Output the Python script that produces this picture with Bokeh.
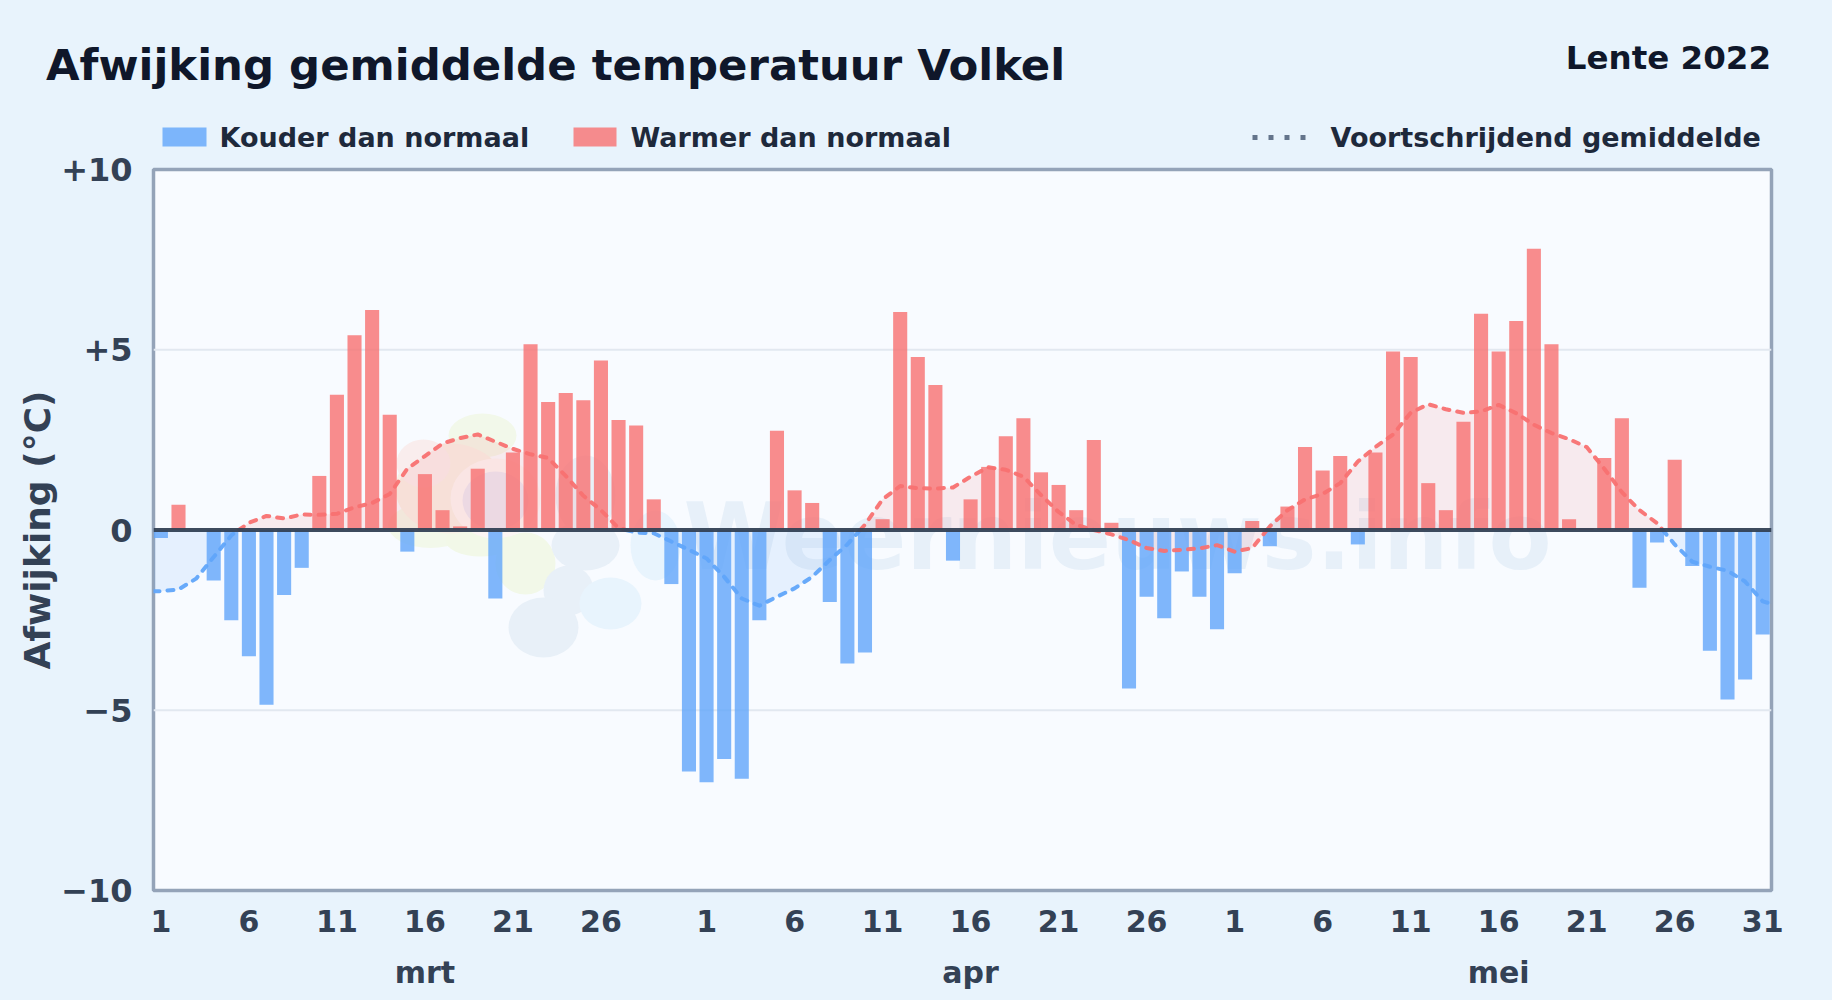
from bokeh.plotting import figure
from bokeh.layouts import column
from bokeh.models import Span, Range1d, LinearAxis, FixedTicker, ColumnDataSource
from bokeh.core.properties import value
from bokeh.embed import file_html
from bokeh.resources import INLINE
import numpy as np

TITLE = "Afwijking gemiddelde temperatuur Volkel"
SUBTITLE = "Lente 2022"
Y_LABEL = "Afwijking (°C)"
LEG_COLD = "Kouder dan normaal"
LEG_WARM = "Warmer dan normaal"
LEG_AVG = "Voortschrijdend gemiddelde"
WATERMARK = "Weernieuws.info"

months = ["mrt", "apr", "mei"]
month_center_day = [15, 46, 76]
tick_days = [0, 5, 10, 15, 20, 25, 31, 36, 41, 46, 51, 56, 61, 66, 71, 76, 81, 86, 91]
tick_labels = ["1", "6", "11", "16", "21", "26", "1", "6", "11", "16", "21", "26",
               "1", "6", "11", "16", "21", "26", "31"]
y_ticks = [-10, -5, 0, 5, 10]
y_tick_labels = ["−10", "−5", "0", "+5", "+10"]

march = [-0.22, 0.7, 0.0, -1.4, -2.5, -3.5, -4.85, -1.8, -1.05, 1.5, 3.75, 5.4, 6.1, 3.2, -0.6, 1.55,
         0.55, 0.1, 1.7, -1.9, 2.15, 5.15, 3.55, 3.8, 3.6, 4.7, 3.05, 2.9, 0.85, -1.5, -6.7]
april = [-7.0, -6.35, -6.9, -2.5, 2.75, 1.1, 0.75, -2.0, -3.7, -3.4, 0.3, 6.05, 4.8, 4.02, -0.85, 0.85,
         1.75, 2.6, 3.1, 1.6, 1.25, 0.55, 2.5, 0.2, -4.4, -1.85, -2.45, -1.15, -1.85, -2.75]
may = [-1.2, 0.25, -0.45, 0.65, 2.3, 1.65, 2.05, -0.4, 2.15, 4.95, 4.8, 1.3, 0.55, 3.0, 6.0, 4.95,
       5.8, 7.8, 5.15, 0.3, 0.05, 2.0, 3.1, -1.6, -0.35, 1.95, -1.0, -3.35, -4.7, -4.15, -2.9]

avg_march = [-1.7, -1.65, -1.35, -0.75, -0.15, 0.2, 0.39, 0.32, 0.43, 0.42, 0.45, 0.63, 0.75, 1.0, 1.7,
             2.05, 2.4, 2.55, 2.65, 2.45, 2.25, 2.1, 2.0, 1.5, 0.95, 0.55, 0.05, -0.07, -0.09, -0.32, -0.55]
avg_april = [-0.79, -1.3, -1.9, -2.1, -1.85, -1.62, -1.3, -0.83, -0.4, 0.15, 0.85, 1.22, 1.16, 1.15, 1.18,
             1.48, 1.74, 1.67, 1.48, 0.97, 0.5, 0.14, 0.0, -0.12, -0.28, -0.5, -0.58, -0.55, -0.51, -0.42]
avg_may = [-0.6, -0.5, 0.1, 0.55, 0.85, 1.0, 1.3, 1.9, 2.3, 2.65, 3.25, 3.49, 3.35, 3.25, 3.29, 3.47,
           3.24, 2.92, 2.69, 2.52, 2.3, 1.7, 1.05, 0.55, 0.19, -0.4, -0.88, -1.02, -1.13, -1.43, -1.98]

W, H, HEAD, OVERLAP = 1832, 1000, 154, 6
FL, FR, FT, FB = 153, 1771, 169, 890
X0, X1 = -0.42, 91.5

values = np.array(march + april + may)
days = np.arange(len(values))
avg = np.array(avg_march + avg_april + avg_may)

BG = "#e8f3fc"
COLD, WARM = "#60a5fa", "#f87171"
TXT = "#334155"
FONT = value("DejaVu Sans")

# ---------- header strip: title and legend, drawn in page pixels ----------
h = figure(width=W, height=HEAD, output_backend="svg", toolbar_location=None,
           x_range=Range1d(0, W), y_range=Range1d(HEAD, 0), x_axis_type=None, y_axis_type=None,
           min_border=0, background_fill_color=BG, border_fill_color=BG, outline_line_color=None,
           frame_align=False)

def head_text(x, y, text, size, color, align="left"):
    h.text(x=[x], y=[y], text=[text], text_font=FONT, text_font_style="bold", text_font_size=size,
           text_color=color, text_align=align, text_baseline="alphabetic")

head_text(45.5, 64, TITLE, "43.4px", "#0f172a")
head_text(1770.5, 57.5, SUBTITLE, "32.5px", "#0f172a", align="right")
h.quad(left=[162], right=[206], top=[127], bottom=[146], fill_color=COLD, fill_alpha=0.8, line_color=None)
head_text(219, 137, LEG_COLD, "27px", "#1e293b")
h.quad(left=[573], right=[616], top=[127], bottom=[146], fill_color=WARM, fill_alpha=0.8, line_color=None)
head_text(630, 137, LEG_WARM, "27px", "#1e293b")
h.line(x=[1252, 1309], y=[137, 137], line_color="#64748b", line_width=5, line_dash="5 11")
head_text(1330, 137, LEG_AVG, "27px", "#1e293b")

# ---------- main chart ----------
TOP = HEAD - OVERLAP
p = figure(width=W, height=H - TOP, output_backend="svg", toolbar_location=None,
           x_range=Range1d(X0, X1), y_range=Range1d(-10, 10),
           x_axis_type=None, y_axis_type=None,
           min_border_left=FL, min_border_right=W - FR, min_border_top=FT - TOP, min_border_bottom=H - FB,
           background_fill_color="#f8fbff", border_fill_color=BG, border_fill_alpha=0.0,
           outline_line_color="#94a3b8", outline_line_width=3.5, frame_align=False,
           margin=(-OVERLAP, 0, 0, 0))

def px(x):
    return (x - FL) / ((FR - FL) / (X1 - X0)) + X0

def py(y):
    return ((FT + FB) / 2.0 - y) / ((FB - FT) / 20.0)

# faint logo behind the data (page pixels: cx, cy, w, h, colour)
logo_blobs = [
    (482, 435, 68, 44, "#f2f8ea"),
    (430, 525, 85, 45, "#f2f8ea"),
    (525, 563, 60, 62, "#f2f8e8"),
    (480, 540, 70, 32, "#f2f8e8"),
    (450, 488, 110, 90, "#f7f0e6"),
    (423, 463, 54, 48, "#f9eded"),
    (495, 498, 90, 80, "#fbf5f4"),
    (495, 500, 66, 58, "#ebe8f3"),
    (585, 545, 68, 50, "#e8f0f8"),
    (585, 495, 60, 80, "#e8f0f8"),
    (568, 590, 50, 50, "#e8f0f8"),
    (543, 627, 70, 60, "#e8f0f8"),
    (610, 603, 62, 52, "#e8f4fd"),
    (655, 545, 50, 70, "#e8f4fd"),
]
for cx, cy, bw, bh, col in logo_blobs:
    p.ellipse(x=[px(cx)], y=[py(cy)], width=[bw], height=[bh],
              width_units="screen", height_units="screen",
              fill_color=col, line_color=None, level="underlay")

p.text(x=[px(1117)], y=[py(537)], text=[WATERMARK], text_font=FONT, text_font_style="bold",
       text_font_size="92px", text_align="center", text_baseline="alphabetic",
       text_color="#4483b9", text_alpha=0.09, level="underlay")

for g in (-5, 5):
    p.add_layout(Span(location=g, dimension="width", line_color="#e2e8f0", line_width=2, level="underlay"))

# moving average split on sign, with exact zero crossings
ax = [X0] + list(days) + [X1]
ay = [avg[0]] + list(avg) + [-2.05]
segs = []
cx_, cy_ = [ax[0]], [ay[0]]
for i in range(1, len(ax)):
    x0, y0, x1, y1 = ax[i - 1], ay[i - 1], ax[i], ay[i]
    if y0 * y1 < 0:
        xz = x0 + (x1 - x0) * (-y0) / (y1 - y0)
        cx_.append(xz); cy_.append(0.0)
        segs.append((cx_, cy_))
        cx_, cy_ = [xz, x1], [0.0, y1]
    else:
        cx_.append(x1); cy_.append(y1)
segs.append((cx_, cy_))

for sx, sy in segs:
    col = WARM if np.mean(sy) > 0 else COLD
    p.varea(x=sx, y1=sy, y2=[0] * len(sy), fill_color=col, fill_alpha=0.12, level="underlay")

src = ColumnDataSource(dict(x=days, top=values,
                            color=[WARM if v > 0 else COLD for v in values]))
p.vbar(x="x", top="top", bottom=0, width=0.8, source=src, fill_color="color", fill_alpha=0.8, line_color=None)

p.add_layout(Span(location=0, dimension="width", line_color="#334155", line_width=4, line_alpha=0.95))

for sx, sy in segs:
    col = WARM if np.mean(sy) > 0 else COLD
    p.line(x=sx, y=sy, line_color=col, line_width=4, line_alpha=0.95, line_dash="6 8", line_cap="round", line_join="round")

xa = LinearAxis(ticker=FixedTicker(ticks=tick_days),
                major_label_overrides={d: l for d, l in zip(tick_days, tick_labels)},
                major_tick_line_color=None, minor_tick_line_color=None, axis_line_color=None,
                major_label_text_font="DejaVu Sans", major_label_text_font_style="bold",
                major_label_text_font_size="30px", major_label_text_color=TXT, major_label_standoff=13)
p.add_layout(xa, "below")
ma = LinearAxis(ticker=FixedTicker(ticks=month_center_day),
                major_label_overrides={d: l for d, l in zip(month_center_day, months)},
                major_tick_line_color=None, minor_tick_line_color=None, axis_line_color=None,
                major_label_text_font="DejaVu Sans", major_label_text_font_style="bold",
                major_label_text_font_size="30px", major_label_text_color=TXT, major_label_standoff=14)
p.add_layout(ma, "below")
ya = LinearAxis(ticker=FixedTicker(ticks=y_ticks),
                major_label_overrides={d: l for d, l in zip(y_ticks, y_tick_labels)},
                major_tick_line_color=None, minor_tick_line_color=None, axis_line_color=None,
                major_label_text_font="DejaVu Sans", major_label_text_font_style="bold",
                major_label_text_font_size="32px", major_label_text_color=TXT, major_label_standoff=15,
                axis_label=Y_LABEL, axis_label_text_font="DejaVu Sans", axis_label_text_font_style="bold",
                axis_label_text_font_size="36px", axis_label_text_color=TXT, axis_label_standoff=0)
p.add_layout(ya, "left")

html = file_html(column(h, p, spacing=0), INLINE)
html = html.replace("</head>", "<style>html,body{background:%s;overflow:hidden;}</style></head>" % BG, 1)
open("out.html", "w").write(html)
